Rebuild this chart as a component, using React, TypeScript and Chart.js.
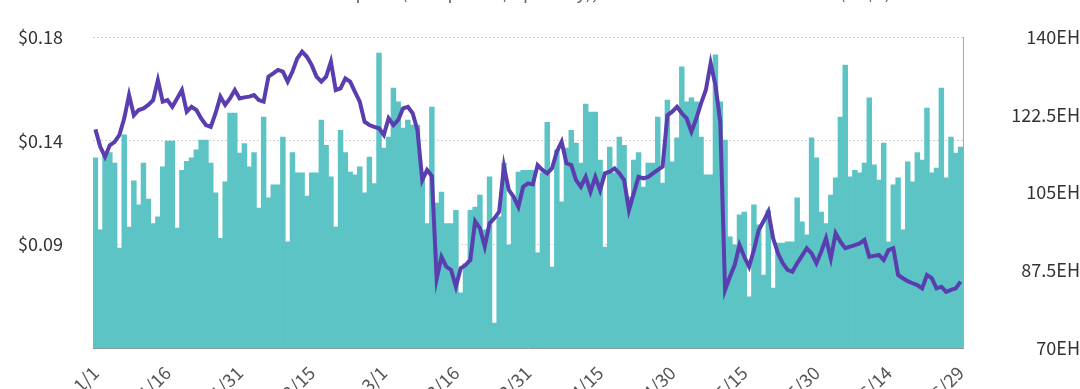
import React, { useEffect, useRef } from 'react';
import { Chart, registerables } from 'chart.js';

Chart.register(...registerables);

// ---- data (daily, 2020-01-01 .. 2020-06-29) ----
const START_DATE = [2020, 0, 1];
const LABEL_EVERY = 15;
const SERIES_NAMES = ['Hashprice (USD per TH/s per day), 7DMA', 'Hashrate (EH/s)'];

const HASHRATE_EH = [
  112.8, 96.6, 114, 114, 111.6, 92.5, 118, 97.2, 107.6, 102.2,
  111.6, 103.5, 98, 99.5, 110.8, 116.6, 116.6, 97, 110, 112,
  112.8, 114.6, 116.8, 116.8, 111.6, 104.9, 94.7, 107.4, 122.9, 122.9,
  113.9, 116, 110.8, 114, 101.5, 122, 103.8, 106.7, 106.7, 117.5,
  93.9, 114, 109.4, 109.4, 104.2, 109.4, 109.4, 121.3, 115.6, 108.5,
  97.2, 119, 114, 109.6, 109, 110.8, 104.9, 113, 107, 136.4,
  115, 117.5, 128.5, 125.4, 119.5, 121.3, 120.2, 120.2, 109.4, 98,
  124.2, 102.6, 105.1, 98, 98, 101, 82.4, 89, 101, 101.7,
  104.4, 96.6, 108.5, 75.6, 99.5, 111.6, 93.2, 104, 109.6, 110,
  110, 110, 91.4, 109.4, 120.8, 88.2, 114.6, 102.9, 115, 119,
  116.1, 111.6, 124.9, 123.1, 123.1, 112.3, 92.7, 115.2, 109.4, 117.5,
  115.6, 104, 112.3, 114, 106.2, 111.6, 111.6, 122, 107.1, 125.8,
  111.9, 117.3, 133.3, 125.4, 126.3, 125.4, 117.5, 109, 109, 136,
  125.4, 116.8, 95, 93.2, 100, 100.6, 81.5, 102.2, 97.7, 86.4,
  101, 83.5, 93.6, 93.6, 93.9, 93.9, 103.8, 98.4, 95.5, 117.3,
  112.8, 100.6, 98, 104.4, 108.3, 122, 133.7, 108.5, 110, 109.4,
  111.6, 126.3, 111.2, 107.8, 116.1, 93.9, 106.7, 108.3, 96.6, 111.9,
  107.4, 114, 112.3, 124, 109.4, 110.5, 128.5, 108.3, 117.5, 113.9,
  115.2,
];

const HASHPRICE_USD = [
  0.1399, 0.1324, 0.128, 0.133, 0.1345, 0.1375, 0.1447, 0.1548, 0.146, 0.1483,
  0.149, 0.1505, 0.1526, 0.1613, 0.1519, 0.1526, 0.1497, 0.1533, 0.157, 0.1476,
  0.1497, 0.1483, 0.1447, 0.1418, 0.141, 0.1469, 0.1541, 0.1505, 0.1533, 0.157,
  0.1533, 0.1538, 0.1541, 0.1548, 0.1526, 0.1519, 0.1628, 0.1642, 0.1657, 0.165,
  0.1606, 0.165, 0.1707, 0.1736, 0.1714, 0.1678, 0.1628, 0.1606, 0.1628, 0.1693,
  0.157, 0.1577, 0.162, 0.1606, 0.1562, 0.1519, 0.1432, 0.1418, 0.141, 0.1404,
  0.1375, 0.1447, 0.1418, 0.144, 0.149, 0.1497, 0.1469, 0.1396, 0.1179, 0.1223,
  0.1197, 0.075, 0.0846, 0.0803, 0.0789, 0.0716, 0.0796, 0.081, 0.0832, 0.1,
  0.0969, 0.089, 0.0991, 0.1013, 0.1042, 0.1238, 0.1136, 0.1107, 0.1063, 0.115,
  0.1165, 0.116, 0.1244, 0.1223, 0.1208, 0.123, 0.1302, 0.1345, 0.1252, 0.1244,
  0.1179, 0.115, 0.1193, 0.1128, 0.1193, 0.1135, 0.1208, 0.1215, 0.123, 0.1208,
  0.1179, 0.1049, 0.1121, 0.1193, 0.1186, 0.1193, 0.1208, 0.1223, 0.1237, 0.146,
  0.1476, 0.1497, 0.1469, 0.1447, 0.1389, 0.1445, 0.1512, 0.157, 0.1686, 0.1591,
  0.143, 0.0702, 0.0759, 0.081, 0.0897, 0.0846, 0.0803, 0.0875, 0.0962, 0.1,
  0.1042, 0.0926, 0.0861, 0.0818, 0.0789, 0.0781, 0.0818, 0.085, 0.0883, 0.0861,
  0.0818, 0.0868, 0.0926, 0.0839, 0.0948, 0.0911, 0.0883, 0.089, 0.0897, 0.0904,
  0.0919, 0.0846, 0.085, 0.0854, 0.0832, 0.0875, 0.0883, 0.0767, 0.0753, 0.074,
  0.0731, 0.0723, 0.0709, 0.0767, 0.0753, 0.0709, 0.0716, 0.0694, 0.0702, 0.0709,
  0.0738,
];

const PRICE_TICKS = [0.045, 0.09, 0.135, 0.18];
const HASH_TICKS = [70, 87.5, 105, 122.5, 140];

const TEAL = '#5CC4C4';
const PURPLE = '#5A3DAE';
const FONT = '"Noto Sans CJK SC", "Noto Sans", sans-serif';

function buildDateLabels(n: number): string[] {
  const out: string[] = [];
  const d = new Date(Date.UTC(START_DATE[0], START_DATE[1], START_DATE[2]));
  for (let i = 0; i < n; i++) {
    out.push(`${d.getUTCMonth() + 1}/${d.getUTCDate()}`);
    d.setUTCDate(d.getUTCDate() + 1);
  }
  return out;
}

const OFFSET_Y = 30; // canvas is shifted up so that the legend is cut off

const legendPlugin = {
  id: 'topLegend',
  afterDraw(chart: any) {
    const ctx = chart.ctx;
    ctx.save();
    const y = 22;
    ctx.font = `18px ${FONT}`;
    ctx.textBaseline = 'middle';
    ctx.strokeStyle = PURPLE;
    ctx.lineWidth = 4;
    ctx.beginPath();
    ctx.moveTo(268, y);
    ctx.lineTo(302, y);
    ctx.stroke();
    ctx.fillStyle = '#666';
    ctx.fillText(SERIES_NAMES[0], 313, y);
    ctx.fillStyle = TEAL;
    ctx.fillRect(723, y - 8, 24, 16);
    ctx.fillStyle = '#666';
    ctx.fillText(SERIES_NAMES[1], 760, y);
    ctx.restore();
  },
};

export default function App() {
  const ref = useRef<HTMLCanvasElement | null>(null);

  useEffect(() => {
    if (!ref.current) return;
    const labels = buildDateLabels(HASHRATE_EH.length);
    const chart = new Chart(ref.current, {
      type: 'bar',
      data: {
        labels,
        datasets: [
          {
            type: 'line',
            label: SERIES_NAMES[0],
            data: HASHPRICE_USD,
            yAxisID: 'y',
            borderColor: PURPLE,
            backgroundColor: PURPLE,
            borderWidth: 4,
            pointRadius: 0,
            tension: 0,
            order: 0,
          } as any,
          {
            type: 'bar',
            label: SERIES_NAMES[1],
            data: HASHRATE_EH,
            yAxisID: 'y1',
            backgroundColor: TEAL,
            borderWidth: 0,
            barPercentage: 1,
            categoryPercentage: 1,
            order: 1,
          },
        ],
      },
      plugins: [legendPlugin],
      options: {
        responsive: false,
        animation: false,
        layout: { padding: { top: 37 + OFFSET_Y, left: 0, right: 0, bottom: 0 } },
        plugins: { legend: { display: false }, tooltip: { enabled: false } },
        scales: {
          x: {
            offset: true,
            grid: { display: false, drawTicks: false },
            border: { display: true, color: '#8a9a9a', width: 1 },
            ticks: {
              autoSkip: false,
              maxRotation: 45,
              minRotation: 45,
              padding: 14,
              color: '#555',
              font: { family: FONT, size: 18 },
              callback: (_v: any, i: number) => (i % LABEL_EVERY === 0 ? labels[i] : ''),
            },
            afterFit: (s: any) => {
              s.height = 62;
            },
          },
          y: {
            position: 'left',
            min: PRICE_TICKS[0],
            max: PRICE_TICKS[PRICE_TICKS.length - 1],
            afterBuildTicks: (s: any) => {
              s.ticks = PRICE_TICKS.map((v) => ({ value: v }));
            },
            grid: { color: '#cfcfcf', lineWidth: 1, drawTicks: false },
            border: { display: false, dash: [2, 2] },
            ticks: {
              padding: 30,
              color: '#333',
              font: { family: FONT, size: 18 },
              callback: (v: any) => (v <= PRICE_TICKS[0] + 1e-6 ? '' : '$' + (Math.round(v * 100) / 100).toFixed(2)),
            },
            afterFit: (s: any) => {
              s.width = 93;
            },
          },
          y1: {
            position: 'right',
            min: HASH_TICKS[0],
            max: HASH_TICKS[HASH_TICKS.length - 1],
            afterBuildTicks: (s: any) => {
              s.ticks = HASH_TICKS.map((v) => ({ value: v }));
            },
            grid: { display: false, drawTicks: false },
            border: { display: true, color: '#aaaaaa', width: 1 },
            ticks: {
              padding: 30,
              crossAlign: 'far',
              color: '#333',
              font: { family: FONT, size: 18 },
              callback: (v: any) => `${v}EH`,
            },
            afterFit: (s: any) => {
              s.width = 117;
            },
          },
        },
      },
    });
    return () => chart.destroy();
  }, []);

  return (
    <div style={{ position: 'fixed', left: 0, top: 0, width: 1080, height: 389, overflow: 'hidden', background: '#fff' }}>
      <canvas
        ref={ref}
        width={1080}
        height={440}
        style={{ position: 'absolute', left: 0, top: -OFFSET_Y, width: 1080, height: 440 }}
      />
    </div>
  );
}
